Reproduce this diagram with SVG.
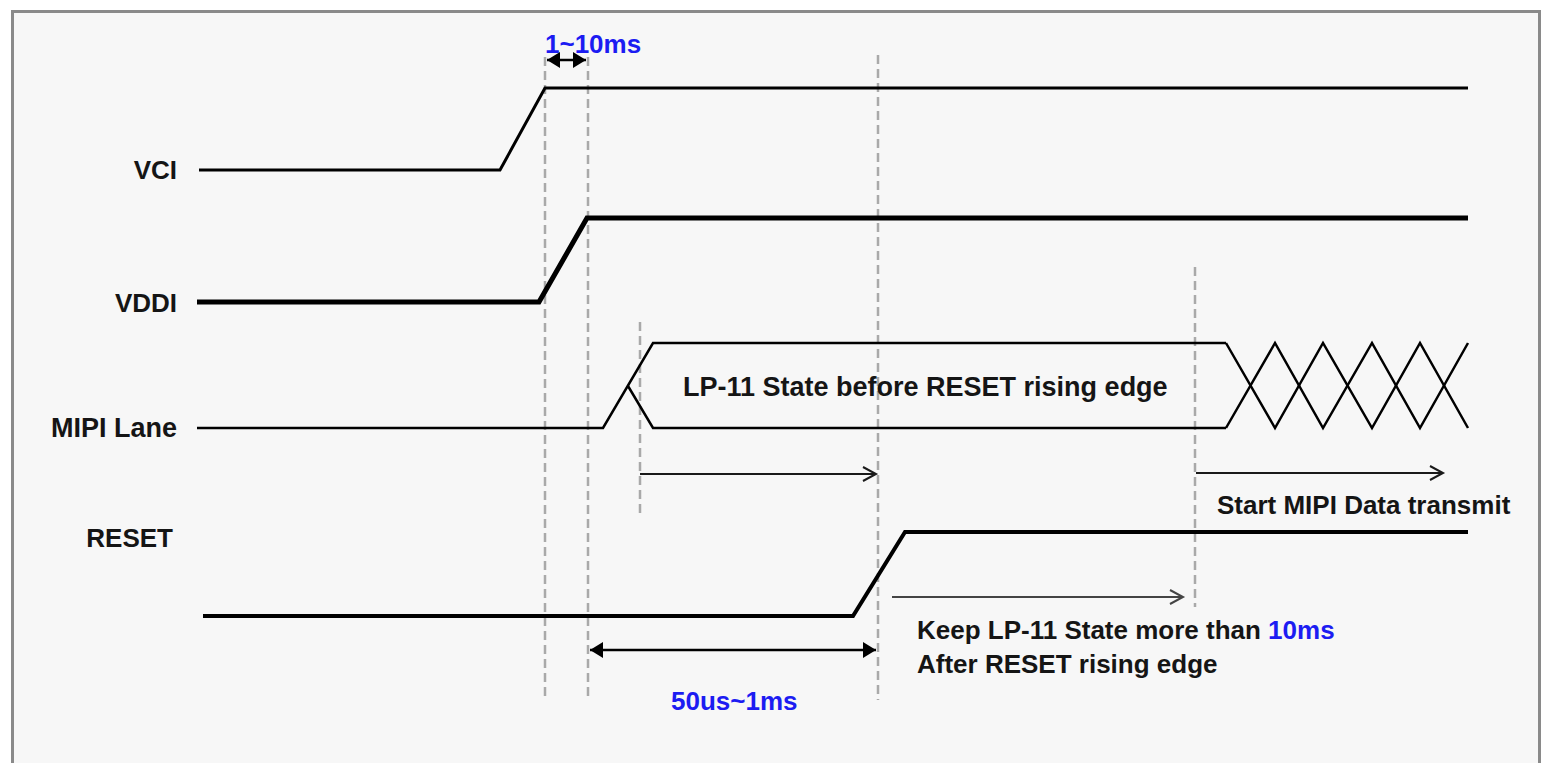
<svg xmlns="http://www.w3.org/2000/svg" width="1543" height="763" viewBox="0 0 1543 763">
<style>
.lbl{font-family:"Liberation Sans",Arial,sans-serif;font-weight:bold;font-size:26px;fill:#151515}
.big{font-size:27px}
.blue{fill:#1c1cf2}
.sig{fill:none;stroke:#000;stroke-linejoin:miter}
.dash{stroke:#a9a9a9;stroke-width:2.5;stroke-dasharray:9 5;fill:none}
.arr{fill:none;stroke:#1a1a1a;stroke-width:2}
</style>
<defs>
<marker id="open" markerWidth="20" markerHeight="20" refX="14" refY="8" orient="auto" markerUnits="userSpaceOnUse">
<path d="M1,1 L14,8 L1,15" fill="none" stroke="#1a1a1a" stroke-width="2"/>
</marker>
<marker id="openg" markerWidth="20" markerHeight="20" refX="14" refY="8" orient="auto" markerUnits="userSpaceOnUse">
<path d="M1,1 L14,8 L1,15" fill="none" stroke="#444" stroke-width="2"/>
</marker>
<marker id="fill" markerWidth="16" markerHeight="18" refX="13" refY="9" orient="auto-start-reverse" markerUnits="userSpaceOnUse">
<path d="M0,1 L13,9 L0,17 Z" fill="#000"/>
</marker>
</defs>
<rect x="0" y="0" width="1543" height="763" fill="#fff"/>
<rect x="12.5" y="11.5" width="1527" height="770" fill="#f7f7f7" stroke="#8a8a8a" stroke-width="3"/>

<g id="connectors">
<line class="dash" x1="545" y1="57" x2="545" y2="700"/>
<line class="dash" x1="588" y1="57" x2="588" y2="700"/>
<line class="dash" x1="878" y1="55" x2="878" y2="700"/>
<line class="dash" x1="640" y1="322" x2="640" y2="513"/>
<line class="dash" x1="1195" y1="267" x2="1195" y2="607"/>
<line x1="547" y1="60" x2="586" y2="60" stroke="#000" stroke-width="2.5" marker-start="url(#fill)" marker-end="url(#fill)"/>
<line x1="590" y1="650" x2="876" y2="650" stroke="#000" stroke-width="2.5" marker-start="url(#fill)" marker-end="url(#fill)"/>
<line class="arr" x1="640" y1="474" x2="876" y2="474" marker-end="url(#open)"/>
<line class="arr" x1="1196" y1="473" x2="1443" y2="473" marker-end="url(#open)"/>
<line x1="892" y1="597" x2="1183" y2="597" fill="none" stroke="#444" stroke-width="2.2" marker-end="url(#openg)"/>
</g>

<g id="vci">
<text class="lbl" x="177" y="179" text-anchor="end">VCI</text>
<polyline class="sig" stroke-width="3" points="199,170 500,170 545,88 1468,88"/>
</g>
<g id="vddi">
<text class="lbl" x="177" y="312" text-anchor="end">VDDI</text>
<polyline class="sig" stroke-width="5" points="197,302 539,302 587,218 1468,218"/>
</g>
<g id="mipi">
<text class="lbl big" x="177" y="437" text-anchor="end">MIPI Lane</text>
<polyline class="sig" stroke-width="2.5" points="197,428 603,428 653,343 1226,343"/>
<polyline class="sig" stroke-width="2.5" points="628,386 653,428 1226,428"/>
<polyline class="sig" stroke-width="2.5" points="1226,343 1275,428 1323,343 1372,428 1420,343 1468,428"/>
<polyline class="sig" stroke-width="2.5" points="1226,428 1275,343 1323,428 1372,343 1420,428 1468,343"/>
<text class="lbl big" x="683" y="396">LP-11 State before RESET rising edge</text>
<text class="lbl" x="1217" y="514">Start MIPI Data transmit</text>
</g>
<g id="reset">
<text class="lbl" x="173" y="547" text-anchor="end">RESET</text>
<polyline class="sig" stroke-width="4" points="203,616 853,616 905,532 1468,532"/>
<text class="lbl" x="917" y="639">Keep LP-11 State more than <tspan class="blue">10ms</tspan></text>
<text class="lbl" x="917" y="673">After RESET rising edge</text>
</g>
<g id="timing">
<text class="lbl blue" x="545" y="53">1~10ms</text>
<text class="lbl blue" x="671" y="710">50us~1ms</text>
</g>
</svg>
